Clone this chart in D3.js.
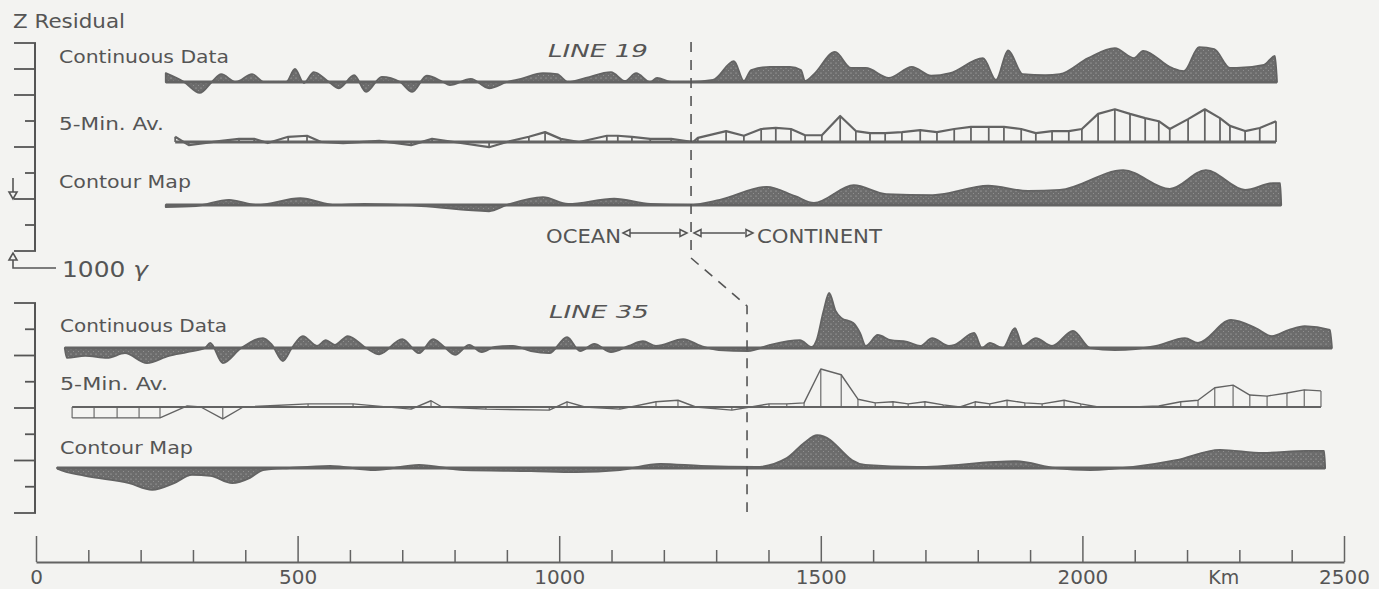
<!DOCTYPE html>
<html>
<head>
<meta charset="utf-8">
<script src="https://cdn.jsdelivr.net/npm/d3@7"></script>
<style>
    body { margin: 0; background: #f3f3f1; }
    svg { display: block; }
    text { font-family: "DejaVu Sans", sans-serif; fill: #555; }
</style>
</head>
<body>
<div class="vis"></div>
<script>
// profiles: [km along track, Z residual in gamma]
const line19Cont = [[248,170],[283,0],[313,-210],[336,0],[354,150],[382,0],[413,150],[436,0],[478,0],[495,250],[512,-20],[531,190],[560,0],[579,-120],[608,130],[631,-190],[661,100],[696,0],[719,-190],[747,120],[778,0],[791,-60],[831,60],[866,-120],[900,0],[927,60],[969,170],[996,150],[1017,0],[1051,80],[1099,190],[1126,20],[1147,170],[1174,0],[1187,80],[1214,0],[1248,0],[1294,40],[1334,400],[1353,20],[1367,230],[1403,290],[1441,290],[1462,230],[1470,20],[1487,150],[1527,580],[1558,270],[1586,270],[1630,80],[1674,290],[1711,120],[1747,170],[1810,460],[1835,40],[1858,610],[1886,150],[1929,130],[1957,150],[2011,460],[2062,650],[2099,460],[2116,600],[2171,270],[2194,210],[2223,670],[2252,630],[2282,270],[2295,270],[2347,330],[2368,500],[2372,0]]

const line19Avg = [[266,100],[292,-60],[354,20],[388,60],[417,60],[443,-20],[482,100],[518,120],[545,0],[587,-20],[656,20],[717,-60],[757,60],[799,0],[866,-100],[900,0],[942,100],[973,190],[1003,60],[1038,0],[1091,120],[1112,120],[1139,100],[1174,60],[1214,60],[1256,0],[1265,80],[1319,210],[1353,120],[1386,250],[1414,270],[1443,250],[1470,130],[1502,130],[1537,500],[1567,210],[1594,170],[1623,170],[1655,190],[1690,230],[1722,190],[1755,250],[1787,290],[1821,290],[1850,290],[1883,250],[1911,170],[1942,210],[1974,210],[1999,250],[2030,540],[2062,630],[2091,540],[2120,460],[2146,400],[2167,250],[2202,440],[2234,630],[2263,460],[2282,310],[2311,210],[2339,270],[2370,400]]

const line19Map = [[248,-40],[306,-20],[369,100],[422,0],[505,130],[573,0],[627,20],[736,-20],[866,-120],[900,0],[969,150],[1017,20],[1105,120],[1174,20],[1248,0],[1307,100],[1397,350],[1451,170],[1487,40],[1563,380],[1625,210],[1714,190],[1820,370],[1896,270],[1957,290],[2078,670],[2167,310],[2236,670],[2311,290],[2364,420],[2378,420],[2380,0]]

const line35Cont = [[55,0],[59,-190],[94,-150],[136,-190],[170,-100],[212,-290],[254,-150],[289,-80],[323,0],[333,100],[357,-290],[392,0],[434,190],[451,60],[472,-250],[489,0],[510,230],[537,40],[554,150],[571,60],[596,230],[631,0],[656,-120],[700,170],[732,-100],[759,170],[776,60],[801,-130],[828,60],[852,-80],[877,20],[912,40],[946,-60],[981,-100],[1015,210],[1040,-60],[1067,80],[1099,-80],[1133,40],[1160,130],[1185,40],[1237,170],[1271,40],[1305,-40],[1361,-60],[1403,60],[1460,150],[1483,20],[1492,150],[1505,700],[1516,1060],[1528,720],[1539,580],[1562,480],[1575,290],[1586,40],[1609,250],[1634,150],[1665,120],[1690,40],[1713,190],[1745,40],[1756,60],[1793,290],[1808,0],[1823,100],[1848,0],[1871,380],[1886,40],[1911,190],[1942,40],[1982,330],[2015,0],[2062,-40],[2141,40],[2196,190],[2221,100],[2284,540],[2332,380],[2362,230],[2395,350],[2425,420],[2473,350],[2477,0]]

const line35Avg = [[69,-210],[111,-210],[155,-210],[197,-210],[237,-210],[289,20],[315,0],[357,-230],[396,0],[520,60],[606,60],[717,-40],[755,120],[776,0],[860,-40],[981,-60],[1015,100],[1049,0],[1116,-40],[1185,100],[1227,130],[1261,0],[1330,-60],[1401,60],[1435,60],[1468,80],[1500,730],[1539,620],[1571,150],[1604,80],[1638,100],[1667,60],[1699,100],[1734,40],[1766,0],[1795,100],[1823,60],[1856,130],[1890,80],[1923,60],[1965,130],[1997,60],[2030,0],[2097,0],[2146,20],[2188,100],[2221,130],[2253,370],[2288,420],[2320,230],[2353,210],[2391,270],[2424,330],[2456,310]]

const line35Map = [[40,0],[42,-20],[94,-150],[178,-290],[222,-420],[264,-290],[298,-130],[333,-150],[375,-290],[409,-190],[434,-40],[485,0],[562,40],[648,-40],[732,60],[818,-40],[946,-60],[1032,-80],[1116,-40],[1193,80],[1271,40],[1376,20],[1435,190],[1468,480],[1493,630],[1518,540],[1535,380],[1560,150],[1585,60],[1684,20],[1873,130],[1948,0],[2015,-40],[2097,20],[2179,150],[2263,350],[2345,290],[2427,330],[2462,330],[2464,0]]

const traceLabels = ['Continuous Data', '5-Min. Av.', 'Contour Map']
const lineNames = ['LINE 19', 'LINE 35']
const kmMinor = [100,200,300,400,600,700,800,900,1100,1200,1300,1400,1600,1700,1800,1900,2100,2200,2300,2400]
const kmMajor = [0,500,1000,1500,2000,2500]
const coastKm = [1252, 1359]
const bracketGamma = [0,500,1000,1500,2000,2500,3000,3500,4000]

const W = 1379, H = 589, ink = '#636363'

const svg = d3.select('.vis').append('svg')
    .attr('width', W)
    .attr('height', H)

const defs = svg.append('defs')
const pat = defs.append('pattern').attr('id', 'stip')
    .attr('width', 5).attr('height', 5)
    .attr('patternUnits', 'userSpaceOnUse')
pat.append('rect').attr('width', 5).attr('height', 5).attr('fill', '#6c6c6c')
pat.append('circle').attr('cx', 1).attr('cy', 1).attr('r', 0.6).attr('fill', '#b8b8b8')
pat.append('circle').attr('cx', 3.5).attr('cy', 3.5).attr('r', 0.5).attr('fill', '#9c9c9c')

const x = d3.scaleLinear().domain([0, 2500]).range([36, 1344])
// 1000 gamma = two bracket steps
const z = d3.scaleLinear().domain([-1000, 1000]).range([52, -52])

const rows = [
    { data: line19Cont, base: 82, kind: 'fill' },
    { data: line19Avg, base: 142, kind: 'avg', w: 2.2 },
    { data: line19Map, base: 205, kind: 'fill' },
    { data: line35Cont, base: 348, kind: 'fill' },
    { data: line35Avg, base: 407, kind: 'avg', w: 1.4 },
    { data: line35Map, base: 468, kind: 'fill' }
]

rows.forEach(r => {
    const g = svg.append('g').attr('transform', `translate(0,${r.base})`)
    const first = r.data[0][0], last = r.data[r.data.length - 1][0]

    if (r.kind === 'fill') {
        const area = d3.area()
            .x(d => x(d[0]))
            .y0(0)
            .y1(d => z(d[1]))
            .curve(d3.curveMonotoneX)
        g.append('path')
            .attr('d', area(r.data))
            .attr('fill', 'url(#stip)')
            .attr('stroke', ink)
            .attr('stroke-width', 1.8)
            .attr('stroke-linejoin', 'round')
        g.append('line')
            .attr('x1', x(first)).attr('x2', x(last))
            .attr('stroke', ink).attr('stroke-width', 3)
    } else {
        const line = d3.line().x(d => x(d[0])).y(d => z(d[1]))
        g.append('line')
            .attr('x1', x(first)).attr('x2', x(last))
            .attr('stroke', ink).attr('stroke-width', r.w + 0.8)
        g.selectAll('line.bar')
            .data(r.data)
            .join('line')
            .attr('class', 'bar')
            .attr('x1', d => x(d[0])).attr('x2', d => x(d[0]))
            .attr('y1', 0).attr('y2', d => z(d[1]))
            .attr('stroke', ink).attr('stroke-width', r.w * 0.8)
        g.append('path')
            .attr('d', line(r.data))
            .attr('fill', 'none')
            .attr('stroke', ink)
            .attr('stroke-width', r.w)
            .attr('stroke-linejoin', 'round')
    }
})

// left Z bracket scales
const brackets = [
    { top: 43, bottom: 251, longs: [0, 1, 2, 4, 6, 8] },
    { top: 303, bottom: 513, longs: [0, 2, 4, 6, 8] }
]
brackets.forEach(b => {
    const s = d3.scaleLinear().domain([0, 4000]).range([b.top, b.bottom])
    svg.append('line')
        .attr('x1', 35).attr('x2', 35)
        .attr('y1', b.top).attr('y2', b.bottom)
        .attr('stroke', '#555').attr('stroke-width', 2)
    svg.selectAll(null)
        .data(bracketGamma)
        .join('line')
        .attr('x1', (d, i) => b.longs.includes(i) ? 14 : 25)
        .attr('x2', 36)
        .attr('y1', d => s(d)).attr('y2', d => s(d))
        .attr('stroke', '#555').attr('stroke-width', 1.8)
})

// 1000 gamma marker arrows
const mk = svg.append('g').attr('stroke', '#555').attr('stroke-width', 1.6).attr('fill', '#f3f3f1')
mk.append('line').attr('x1', 13).attr('x2', 13).attr('y1', 178).attr('y2', 192)
mk.append('path').attr('d', 'M9,192 L17,192 L13,199 Z')
mk.append('path').attr('d', 'M9,260 L17,260 L13,253 Z')
mk.append('path').attr('d', 'M13,260 V268 H56').attr('fill', 'none')

// labels
const lab = (t, xx, yy, len, size = 18) => svg.append('text')
    .attr('x', xx).attr('y', yy)
    .attr('font-size', size)
    .attr('textLength', len)
    .attr('lengthAdjust', 'spacingAndGlyphs')
    .text(t)

lab('Z Residual', 13, 28, 112, 19)
const labY = [[63, 130, 188], [332, 390, 454]]
const labW = [[170, 105, 132], [167, 108, 133]]
labY.forEach((ys, j) => ys.forEach((yy, i) => lab(traceLabels[i], 59 + j, yy, labW[j][i])))

const gam = svg.append('text').attr('x', 62).attr('y', 277).attr('font-size', 22)
    .attr('textLength', 86).attr('lengthAdjust', 'spacingAndGlyphs')
gam.append('tspan').text('1000 ')
gam.append('tspan').attr('font-style', 'italic').text('γ')

lab(lineNames[0], 548, 57, 100, 18).attr('font-style', 'italic')
lab(lineNames[1], 549, 318, 100, 18).attr('font-style', 'italic')

lab('OCEAN', 546, 243, 75, 19)
lab('CONTINENT', 757, 243, 125, 19)

// ocean / continent arrows
const ar = svg.append('g').attr('stroke', '#555').attr('stroke-width', 1.5).attr('fill', '#f3f3f1')
const ay = 233
ar.append('line').attr('x1', 630).attr('x2', 680).attr('y1', ay).attr('y2', ay)
ar.append('line').attr('x1', 700).attr('x2', 745).attr('y1', ay).attr('y2', ay)
ar.append('path').attr('d', `M623,${ay} L630,${ay - 3.5} L630,${ay + 3.5} Z`)
ar.append('path').attr('d', `M687,${ay} L680,${ay - 3.5} L680,${ay + 3.5} Z`)
ar.append('path').attr('d', `M694,${ay} L701,${ay - 3.5} L701,${ay + 3.5} Z`)
ar.append('path').attr('d', `M753,${ay} L746,${ay - 3.5} L746,${ay + 3.5} Z`)

// coast line (dashed)
const c19 = x(coastKm[0]), c35 = x(coastKm[1])
svg.append('path')
    .attr('d', `M${c19},42 V258 L${c35},306 V512`)
    .attr('fill', 'none')
    .attr('stroke', '#555')
    .attr('stroke-width', 1.6)
    .attr('stroke-dasharray', '10,8')

// km axis
const axY = 562
svg.append('g')
    .attr('transform', `translate(0,${axY})`)
    .call(d3.axisBottom(x).tickValues(kmMinor).tickSize(-12).tickSizeOuter(0).tickFormat(''))
    .call(g => g.select('.domain').remove())
const majorAxis = svg.append('g')
    .attr('transform', `translate(0,${axY})`)
    .call(d3.axisBottom(x).tickValues(kmMajor).tickSize(-26).tickSizeOuter(0)
        .tickPadding(6).tickFormat(d3.format('d')))
svg.selectAll('.tick line').attr('stroke', ink).attr('stroke-width', 1.5)
majorAxis.select('.domain').attr('stroke', ink).attr('stroke-width', 2)
majorAxis.selectAll('.tick text')
    .attr('font-size', 20)
    .attr('font-family', '"DejaVu Sans", sans-serif')
    .attr('fill', '#555')
    .attr('dy', '0.78em')
svg.append('text')
    .attr('x', x(2270)).attr('y', 584)
    .attr('text-anchor', 'middle')
    .attr('font-size', 19)
    .text('Km')
</script>
</body>
</html>
